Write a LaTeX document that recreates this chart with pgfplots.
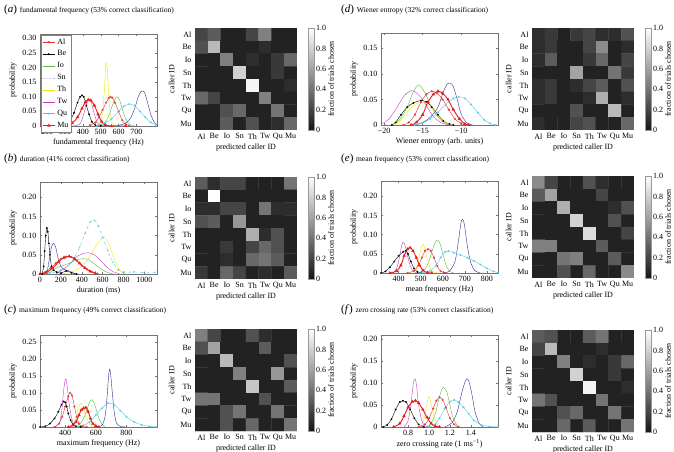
\documentclass[border=0pt]{standalone}
\usepackage{pgfplots}
\pgfplotsset{compat=1.18}
\usepackage{fontspec}
\setmainfont{Liberation Serif}
\newcommand{\fs}{\fontsize{8}{9}\selectfont}
\newcommand{\ft}{\fontsize{7.5}{9}\selectfont}
\definecolor{cAl}{RGB}{225,45,45}
\definecolor{cMu}{RGB}{230,30,30}
\definecolor{cIo}{RGB}{90,185,60}
\definecolor{cSn}{RGB}{45,45,150}
\definecolor{cTh}{RGB}{240,230,0}
\definecolor{cTw}{RGB}{200,60,200}
\definecolor{cQu}{RGB}{80,200,225}
\pgfplotsset{
  lp/.style={scale only axis, width=117pt, height=92pt, ymin=0,
    axis line style={black!55}, tick style={black!55, thin}, major tick length=2pt,
    tick align=inside, every tick label/.append style={font=\fs},
    label style={font=\fs}, ylabel={probability},
    ylabel style={yshift=-1pt}, xlabel style={yshift=3pt},
    every axis plot/.append style={thin, smooth},
    legend image code/.code={\draw[mark repeat=2,mark phase=2,##1] plot coordinates {(0pt,0pt) (6pt,0pt) (12pt,0pt)};}},
  sAl/.style={color=cAl, mark=o, mark size=0.9pt},
  sBe/.style={color=black, mark=*, mark size=0.7pt},
  sIo/.style={color=cIo},
  sSn/.style={color=cSn},
  sTh/.style={color=cTh},
  sTw/.style={color=cTw},
  sQu/.style={color=cQu, mark=o, mark size=0.8pt},
  sMu/.style={color=cMu, mark=triangle*, mark size=1.1pt, line width=0.9pt},
  hm/.style={scale only axis, width=102pt, height=102pt,
    xmin=-0.5,xmax=7.5,ymin=-0.5,ymax=7.5, y dir=reverse, enlargelimits=false,
    xtick={0,...,7}, ytick={0,...,7},
    xticklabels={Al,Be,Io,Sn,Th,Tw,Qu,Mu}, yticklabels={Al,Be,Io,Sn,Th,Tw,Qu,Mu},
    major tick length=0pt, axis line style={draw=none},
    every tick label/.append style={font=\fs}, label style={font=\fs},
    xlabel={predicted caller ID}, ylabel={caller ID},
    xlabel style={yshift=3pt}, ylabel style={yshift=-1pt},
    colormap={bw}{rgb255=(22,22,22) rgb255=(255,255,255)},
    point meta min=0, point meta max=1, colorbar,
    colorbar style={at={(parent axis.north east)}, anchor=north west, xshift=3pt, width=6pt,
      ytick={0,0.2,0.4,0.6,0.8,1}, yticklabels={0,0.2,0.4,0.6,0.8,1.0},
      ylabel={fraction of trials chosen},
      yticklabel style={font=\fs, inner xsep=1.5pt},
      ylabel style={font=\fs, inner sep=0pt, at={(rel axis cs:1,0.5)}, anchor=north, yshift=-13.5pt},
      major tick length=0pt, axis line style={black!40}}},
  mp/.style={matrix plot*, mesh/cols=8, point meta=explicit}
}
\begin{document}
\begin{tikzpicture}
\path[use as bounding box] (0pt,0pt) rectangle (674pt,452pt);
% titles
\node[anchor=base west, inner sep=0pt] at (4pt,439pt) {\fontsize{11}{12}\selectfont(\textit{a})\ \ft fundamental frequency (53\% correct classification)};
\node[anchor=base west, inner sep=0pt] at (4pt,290pt) {\fontsize{11}{12}\selectfont(\textit{b})\ \ft duration (41\% correct classification)};
\node[anchor=base west, inner sep=0pt] at (4pt,139pt) {\fontsize{11}{12}\selectfont(\textit{c})\ \ft maximum frequency (49\% correct classification)};
\node[anchor=base west, inner sep=0pt] at (341pt,439pt) {\fontsize{11}{12}\selectfont(\textit{d})\ \ft Wiener entropy (32\% correct classification)};
\node[anchor=base west, inner sep=0pt] at (341pt,290pt) {\fontsize{11}{12}\selectfont(\textit{e})\ \ft mean frequency (53\% correct classification)};
\node[anchor=base west, inner sep=0pt] at (341pt,139pt) {\fontsize{11}{12}\selectfont(\textit{f})\ \ft zero crossing rate (53\% correct classification)};

% ===== (a) line
\begin{axis}[lp, at={(40pt,326pt)}, anchor=south west, xmin=160, xmax=815, ymax=0.315,
  xtick={200,300,400,500,600,700}, xticklabels={200,300,400,500,600,700},
  ytick={0,0.05,0.1,0.15,0.2,0.25,0.3}, yticklabels={0,0.05,0.10,0.15,0.20,0.25,0.30},
  xlabel={fundamental frequency (Hz)},
  legend style={at={(0.01,0.985)}, anchor=north west, font=\fs, draw=black!50, inner sep=1pt, row sep=1.1pt, cells={anchor=west}}]
\addplot[sAl] coordinates {(440,0.003)(470,0.012)(490,0.03)(510,0.055)(530,0.08)(545,0.095)(555,0.1)(565,0.097)(580,0.08)(600,0.05)(620,0.02)(640,0.006)(660,0.001)};
\addplot[sBe] coordinates {(170,0)(250,0.001)(300,0.005)(330,0.02)(350,0.045)(370,0.08)(385,0.1)(395,0.105)(405,0.1)(420,0.07)(435,0.04)(450,0.015)(470,0.003)(500,0)};
\addplot[sIo] coordinates {(480,0)(520,0.01)(545,0.035)(565,0.07)(580,0.093)(592,0.1)(605,0.09)(620,0.06)(640,0.025)(660,0.006)(690,0)};
\addplot[sSn] coordinates {(560,0)(620,0.005)(660,0.02)(690,0.06)(710,0.1)(725,0.118)(735,0.12)(745,0.115)(760,0.085)(780,0.04)(800,0.012)(815,0.004)};
\addplot[sTh] coordinates {(450,0)(490,0.005)(510,0.04)(520,0.12)(527,0.2)(532,0.215)(537,0.19)(545,0.1)(555,0.03)(570,0.005)(600,0)};
\addplot[sTw] coordinates {(340,0)(380,0.005)(400,0.03)(415,0.065)(428,0.085)(437,0.09)(447,0.08)(460,0.05)(475,0.02)(490,0.005)(520,0)};
\addplot[sQu] coordinates {(480,0)(520,0.008)(560,0.025)(600,0.05)(630,0.068)(660,0.075)(690,0.07)(720,0.05)(750,0.03)(780,0.012)(810,0.004)};
\addplot[sMu] coordinates {(170,0)(300,0.002)(340,0.01)(370,0.03)(395,0.06)(415,0.083)(430,0.09)(445,0.088)(465,0.07)(485,0.04)(505,0.015)(525,0.004)(560,0)(640,0)};
\legend{Al,Be,Io,Sn,Th,Tw,Qu,Mu}
\end{axis}
% ===== (a) heatmap
\begin{axis}[hm, at={(195pt,322pt)}, anchor=south west]
\addplot[mp] coordinates {
(0,0)[.2] (1,0)[.3] (2,0)[.05] (3,0)[.05] (4,0)[.2] (5,0)[.45] (6,0)[.05] (7,0)[.05]
(0,1)[.25] (1,1)[.7] (2,1)[.05] (3,1)[.05] (4,1)[.05] (5,1)[.1] (6,1)[.05] (7,1)[.05]
(0,2)[.05] (1,2)[.05] (2,2)[.45] (3,2)[.05] (4,2)[.1] (5,2)[.05] (6,2)[.15] (7,2)[.35]
(0,3)[.05] (1,3)[.05] (2,3)[.05] (3,3)[.8] (4,3)[.05] (5,3)[.05] (6,3)[.15] (7,3)[.05]
(0,4)[.05] (1,4)[.05] (2,4)[.05] (3,4)[.05] (4,4)[.95] (5,4)[.05] (6,4)[.05] (7,4)[.1]
(0,5)[.35] (1,5)[.2] (2,5)[.05] (3,5)[.05] (4,5)[.05] (5,5)[.45] (6,5)[.05] (7,5)[.05]
(0,6)[.05] (1,6)[.05] (2,6)[.25] (3,6)[.35] (4,6)[.05] (5,6)[.05] (6,6)[.4] (7,6)[.05]
(0,7)[.05] (1,7)[.05] (2,7)[.3] (3,7)[.05] (4,7)[.25] (5,7)[.05] (6,7)[.1] (7,7)[.35]
};
\end{axis}

% ===== (b) line
\begin{axis}[lp, at={(40pt,178pt)}, anchor=south west, xmin=0, xmax=1120, ymax=0.24,
  xtick={0,200,400,600,800,1000}, xticklabels={0,200,400,600,800,1000},
  ytick={0,0.05,0.1,0.15,0.2}, yticklabels={0,0.05,0.10,0.15,0.20},
  xlabel={duration (ms)}]
\addplot[sAl] coordinates {(0,0)(50,0.005)(100,0.015)(150,0.028)(200,0.04)(250,0.045)(300,0.044)(350,0.035)(400,0.022)(450,0.012)(500,0.005)(550,0.001)};
\addplot[sBe] coordinates {(20,0)(35,0.02)(45,0.06)(55,0.1)(65,0.12)(75,0.11)(85,0.08)(95,0.05)(110,0.02)(130,0.01)(160,0.005)(200,0.002)(250,0.008)(300,0.003)(350,0)};
\addplot[sIo] coordinates {(50,0)(100,0.005)(150,0.015)(200,0.02)(250,0.025)(300,0.03)(350,0.037)(420,0.04)(480,0.035)(540,0.022)(600,0.01)(650,0.004)(700,0)};
\addplot[sSn] coordinates {(40,0)(70,0.01)(90,0.04)(110,0.07)(130,0.08)(150,0.07)(175,0.04)(200,0.02)(230,0.012)(260,0.01)(300,0.005)(350,0)};
\addplot[sTh] coordinates {(200,0)(300,0.005)(400,0.02)(450,0.035)(500,0.055)(550,0.08)(600,0.095)(630,0.093)(670,0.07)(710,0.04)(750,0.015)(790,0.003)(820,0)};
\addplot[sTw] coordinates {(150,0)(200,0.008)(250,0.018)(300,0.03)(350,0.045)(420,0.054)(470,0.055)(520,0.05)(580,0.035)(640,0.018)(700,0.006)(760,0.001)};
\addplot[sQu, dashed] coordinates {(0,0)(100,0.002)(200,0.01)(300,0.03)(380,0.07)(430,0.105)(480,0.135)(520,0.14)(560,0.125)(600,0.095)(650,0.06)(700,0.03)(750,0.01)(800,0.005)(900,0.005)(1000,0.004)(1100,0.004)};
\addplot[sMu] coordinates {(0,0)(60,0.004)(120,0.015)(180,0.032)(230,0.043)(280,0.046)(330,0.04)(380,0.028)(430,0.016)(480,0.007)(530,0.002)};
\end{axis}
% ===== (b) heatmap
\begin{axis}[hm, at={(195pt,173pt)}, anchor=south west]
\addplot[mp] coordinates {
(0,0)[.3] (1,0)[.1] (2,0)[.2] (3,0)[.2] (4,0)[.05] (5,0)[.05] (6,0)[.05] (7,0)[.4]
(0,1)[.05] (1,1)[1] (2,1)[.05] (3,1)[.05] (4,1)[.05] (5,1)[.05] (6,1)[.05] (7,1)[.05]
(0,2)[.1] (1,2)[.1] (2,2)[.2] (3,2)[.2] (4,2)[.05] (5,2)[.4] (6,2)[.1] (7,2)[.1]
(0,3)[.25] (1,3)[.3] (2,3)[.05] (3,3)[.55] (4,3)[.05] (5,3)[.05] (6,3)[.05] (7,3)[.05]
(0,4)[.05] (1,4)[.05] (2,4)[.05] (3,4)[.05] (4,4)[.65] (5,4)[.1] (6,4)[.25] (7,4)[.05]
(0,5)[.05] (1,5)[.05] (2,5)[.15] (3,5)[.05] (4,5)[.2] (5,5)[.35] (6,5)[.25] (7,5)[.05]
(0,6)[.05] (1,6)[.05] (2,6)[.1] (3,6)[.05] (4,6)[.35] (5,6)[.4] (6,6)[.3] (7,6)[.05]
(0,7)[.15] (1,7)[.05] (2,7)[.35] (3,7)[.2] (4,7)[.05] (5,7)[.1] (6,7)[.05] (7,7)[.3]
};
\end{axis}

% ===== (c) line
\begin{axis}[lp, at={(40pt,25pt)}, anchor=south west, xmin=235, xmax=1000, ymax=0.27,
  xtick={400,600,800}, xticklabels={400,600,800},
  ytick={0,0.05,0.1,0.15,0.2,0.25}, yticklabels={0,0.05,0.10,0.15,0.20,0.25},
  xlabel={maximum frequency (Hz)}]
\addplot[sAl] coordinates {(330,0)(360,0.01)(380,0.03)(400,0.06)(420,0.09)(432,0.1)(445,0.092)(460,0.06)(475,0.03)(490,0.01)(510,0.002)(540,0)};
\addplot[sBe] coordinates {(235,0)(270,0.002)(300,0.01)(330,0.025)(355,0.045)(375,0.065)(390,0.075)(400,0.072)(410,0.06)(420,0.04)(435,0.02)(450,0.008)(470,0.002)(500,0)};
\addplot[sIo] coordinates {(470,0)(500,0.01)(525,0.03)(545,0.055)(560,0.075)(572,0.08)(585,0.075)(600,0.055)(620,0.025)(640,0.008)(660,0)};
\addplot[sSn] coordinates {(600,0)(640,0.005)(660,0.03)(672,0.08)(682,0.14)(690,0.17)(698,0.15)(708,0.1)(720,0.045)(735,0.012)(760,0.002)(800,0)};
\addplot[sTh] coordinates {(420,0)(455,0.01)(475,0.035)(490,0.06)(500,0.07)(512,0.065)(525,0.045)(540,0.025)(560,0.008)(580,0)};
\addplot[sTw] coordinates {(330,0)(360,0.01)(375,0.04)(388,0.1)(398,0.135)(405,0.14)(413,0.12)(425,0.07)(440,0.03)(455,0.008)(480,0)};
\addplot[sQu] coordinates {(480,0)(520,0.005)(560,0.015)(600,0.035)(640,0.055)(680,0.07)(720,0.065)(760,0.048)(800,0.03)(850,0.015)(900,0.006)(950,0.002)(990,0)};
\addplot[sMu] coordinates {(420,0)(450,0.005)(470,0.015)(490,0.035)(505,0.05)(520,0.055)(535,0.057)(550,0.045)(565,0.025)(580,0.01)(600,0.003)(620,0)};
\end{axis}
% ===== (c) heatmap
\begin{axis}[hm, at={(195pt,21pt)}, anchor=south west]
\addplot[mp] coordinates {
(0,0)[.45] (1,0)[.2] (2,0)[.05] (3,0)[.05] (4,0)[.25] (5,0)[.1] (6,0)[.05] (7,0)[.05]
(0,1)[.25] (1,1)[.6] (2,1)[.05] (3,1)[.05] (4,1)[.05] (5,1)[.3] (6,1)[.05] (7,1)[.05]
(0,2)[.05] (1,2)[.05] (2,2)[.7] (3,2)[.05] (4,2)[.05] (5,2)[.05] (6,2)[.05] (7,2)[.25]
(0,3)[.05] (1,3)[.05] (2,3)[.05] (3,3)[.45] (4,3)[.05] (5,3)[.05] (6,3)[.55] (7,3)[.05]
(0,4)[.05] (1,4)[.05] (2,4)[.05] (3,4)[.05] (4,4)[.75] (5,4)[.05] (6,4)[.05] (7,4)[.3]
(0,5)[.4] (1,5)[.4] (2,5)[.05] (3,5)[.05] (4,5)[.05] (5,5)[.25] (6,5)[.05] (7,5)[.05]
(0,6)[.05] (1,6)[.05] (2,6)[.25] (3,6)[.4] (4,6)[.05] (5,6)[.05] (6,6)[.4] (7,6)[.05]
(0,7)[.05] (1,7)[.05] (2,7)[.25] (3,7)[.05] (4,7)[.35] (5,7)[.05] (6,7)[.05] (7,7)[.4]
};
\end{axis}

% ===== (d) line
\begin{axis}[lp, at={(381pt,327pt)}, anchor=south west, xmin=-20.4, xmax=-5.2, ymax=0.18,
  xtick={-20,-15,-10}, xticklabels={−20,−15,−10},
  ytick={0,0.05,0.1,0.15}, yticklabels={0,0.05,0.10,0.15},
  xlabel={Wiener entropy (arb. units)}]
\addplot[sAl] coordinates {(-17.5,0)(-16.8,0.005)(-16,0.02)(-15.2,0.045)(-14.5,0.06)(-13.8,0.066)(-13.1,0.062)(-12.4,0.05)(-11.6,0.03)(-10.8,0.012)(-10,0.003)(-9.5,0)};
\addplot[sBe] coordinates {(-19,0)(-18.5,0.005)(-17.8,0.02)(-17,0.035)(-16.2,0.043)(-15.2,0.048)(-14.5,0.045)(-13.8,0.035)(-13,0.02)(-12.3,0.008)(-11.5,0.002)(-11,0)};
\addplot[sIo] coordinates {(-19,0)(-18,0.01)(-17,0.035)(-16.2,0.065)(-15.6,0.078)(-15.2,0.075)(-14.6,0.06)(-14,0.04)(-13.2,0.02)(-12.5,0.008)(-11.5,0)};
\addplot[sSn] coordinates {(-16,0)(-15,0.005)(-14,0.015)(-13,0.035)(-12.3,0.065)(-11.8,0.08)(-11.4,0.082)(-11,0.075)(-10.5,0.05)(-10,0.022)(-9.3,0.005)(-8.5,0)};
\addplot[sTh] coordinates {(-18.5,0)(-17.8,0.01)(-17,0.025)(-16,0.04)(-15.2,0.045)(-14.5,0.04)(-13.6,0.03)(-12.8,0.015)(-12,0.005)(-11,0)};
\addplot[sTw] coordinates {(-20.4,0.002)(-19.5,0.01)(-18.5,0.03)(-17.5,0.055)(-16.8,0.065)(-16.3,0.067)(-15.8,0.063)(-15,0.05)(-14.2,0.03)(-13.5,0.015)(-12.5,0.004)(-11.5,0)};
\addplot[sQu] coordinates {(-16,0)(-15,0.004)(-14,0.012)(-13,0.025)(-12,0.04)(-11,0.052)(-10.3,0.055)(-9.5,0.052)(-8.7,0.04)(-7.8,0.024)(-7,0.01)(-6.2,0.003)(-5.5,0)};
\addplot[sMu] coordinates {(-16.5,0)(-15.8,0.005)(-15,0.02)(-14.3,0.045)(-13.6,0.06)(-13,0.066)(-12.4,0.062)(-11.7,0.05)(-11,0.03)(-10.2,0.012)(-9.5,0.002)(-9,0)};
\end{axis}
% ===== (d) heatmap
\begin{axis}[hm, at={(532pt,322pt)}, anchor=south west]
\addplot[mp] coordinates {
(0,0)[.1] (1,0)[.15] (2,0)[.05] (3,0)[.15] (4,0)[.2] (5,0)[.1] (6,0)[.1] (7,0)[.25]
(0,1)[.1] (1,1)[.15] (2,1)[.05] (3,1)[.05] (4,1)[.2] (5,1)[.5] (6,1)[.05] (7,1)[.1]
(0,2)[.1] (1,2)[.3] (2,2)[.05] (3,2)[.05] (4,2)[.15] (5,2)[.35] (6,2)[.05] (7,2)[.2]
(0,3)[.05] (1,3)[.05] (2,3)[.05] (3,3)[.6] (4,3)[.05] (5,3)[.05] (6,3)[.4] (7,3)[.15]
(0,4)[.1] (1,4)[.15] (2,4)[.05] (3,4)[.1] (4,4)[.2] (5,4)[.3] (6,4)[.05] (7,4)[.25]
(0,5)[.1] (1,5)[.15] (2,5)[.05] (3,5)[.05] (4,5)[.1] (5,5)[.65] (6,5)[.05] (7,5)[.1]
(0,6)[.05] (1,6)[.05] (2,6)[.05] (3,6)[.25] (4,6)[.05] (5,6)[.05] (6,6)[.7] (7,6)[.05]
(0,7)[.1] (1,7)[.05] (2,7)[.05] (3,7)[.2] (4,7)[.25] (5,7)[.05] (6,7)[.05] (7,7)[.35]
};
\end{axis}

% ===== (e) line
\begin{axis}[lp, at={(381pt,179pt)}, anchor=south west, xmin=320, xmax=850, ymax=0.24,
  xtick={400,500,600,700,800}, xticklabels={400,500,600,700,800},
  ytick={0,0.05,0.1,0.15,0.2}, yticklabels={0,0.05,0.10,0.15,0.20},
  xlabel={mean frequency (Hz)}]
\addplot[sAl] coordinates {(440,0)(470,0.006)(490,0.02)(505,0.04)(520,0.058)(532,0.062)(545,0.058)(560,0.04)(575,0.018)(590,0.005)(610,0)};
\addplot[sBe] coordinates {(320,0)(340,0.004)(360,0.015)(380,0.03)(400,0.045)(420,0.055)(432,0.058)(442,0.05)(455,0.03)(470,0.012)(485,0.003)(500,0)};
\addplot[sIo] coordinates {(480,0)(510,0.005)(530,0.02)(545,0.045)(560,0.072)(572,0.085)(585,0.08)(600,0.05)(615,0.02)(630,0.005)(650,0)};
\addplot[sSn] coordinates {(600,0)(630,0.005)(655,0.03)(670,0.08)(682,0.13)(690,0.14)(698,0.125)(710,0.075)(725,0.03)(745,0.006)(770,0)};
\addplot[sTh] coordinates {(450,0)(475,0.008)(490,0.035)(502,0.065)(510,0.075)(518,0.065)(530,0.035)(545,0.01)(560,0.002)(580,0)};
\addplot[sTw] coordinates {(370,0)(390,0.01)(405,0.045)(415,0.075)(422,0.08)(430,0.07)(440,0.045)(455,0.015)(470,0.003)(490,0)};
\addplot[sQu] coordinates {(500,0)(540,0.005)(570,0.02)(590,0.04)(610,0.055)(625,0.057)(650,0.053)(680,0.047)(710,0.04)(740,0.032)(770,0.022)(800,0.012)(830,0.004)(850,0.001)};
\addplot[sMu] coordinates {(360,0)(390,0.005)(410,0.02)(425,0.045)(440,0.062)(452,0.066)(465,0.058)(480,0.04)(495,0.02)(510,0.007)(530,0.001)(550,0)};
\end{axis}
% ===== (e) heatmap
\begin{axis}[hm, at={(532pt,174pt)}, anchor=south west]
\addplot[mp] coordinates {
(0,0)[.5] (1,0)[.2] (2,0)[.05] (3,0)[.05] (4,0)[.25] (5,0)[.1] (6,0)[.05] (7,0)[.05]
(0,1)[.3] (1,1)[.6] (2,1)[.05] (3,1)[.05] (4,1)[.05] (5,1)[.2] (6,1)[.05] (7,1)[.05]
(0,2)[.05] (1,2)[.05] (2,2)[.65] (3,2)[.05] (4,2)[.05] (5,2)[.05] (6,2)[.1] (7,2)[.25]
(0,3)[.05] (1,3)[.05] (2,3)[.05] (3,3)[.8] (4,3)[.05] (5,3)[.05] (6,3)[.25] (7,3)[.05]
(0,4)[.05] (1,4)[.05] (2,4)[.05] (3,4)[.05] (4,4)[.85] (5,4)[.05] (6,4)[.05] (7,4)[.2]
(0,5)[.45] (1,5)[.45] (2,5)[.05] (3,5)[.05] (4,5)[.05] (5,5)[.3] (6,5)[.05] (7,5)[.05]
(0,6)[.05] (1,6)[.05] (2,6)[.4] (3,6)[.45] (4,6)[.05] (5,6)[.05] (6,6)[.3] (7,6)[.05]
(0,7)[.05] (1,7)[.05] (2,7)[.25] (3,7)[.05] (4,7)[.35] (5,7)[.05] (6,7)[.05] (7,7)[.5]
};
\end{axis}

% ===== (f) line
\begin{axis}[lp, at={(381pt,25pt)}, anchor=south west, xmin=0.54, xmax=1.66, ymax=0.21,
  xtick={0.8,1.0,1.2,1.4}, xticklabels={0.8,1.0,1.2,1.4},
  ytick={0,0.05,0.1,0.15,0.2}, yticklabels={0,0.05,0.10,0.15,0.20},
  xlabel={zero crossing rate (1 ms\textsuperscript{−1})}]
\addplot[sAl] coordinates {(0.9,0)(0.96,0.006)(1.0,0.02)(1.04,0.042)(1.07,0.06)(1.1,0.068)(1.13,0.062)(1.16,0.045)(1.2,0.02)(1.24,0.006)(1.28,0)};
\addplot[sBe] coordinates {(0.56,0)(0.6,0.005)(0.64,0.018)(0.68,0.04)(0.72,0.057)(0.75,0.06)(0.78,0.057)(0.82,0.04)(0.86,0.02)(0.9,0.006)(0.95,0)};
\addplot[sIo] coordinates {(0.98,0)(1.02,0.008)(1.06,0.03)(1.09,0.06)(1.12,0.085)(1.14,0.09)(1.17,0.08)(1.2,0.05)(1.23,0.02)(1.27,0.004)(1.3,0)};
\addplot[sSn] coordinates {(1.15,0)(1.22,0.01)(1.27,0.035)(1.31,0.075)(1.34,0.1)(1.36,0.11)(1.38,0.105)(1.41,0.075)(1.44,0.035)(1.48,0.008)(1.52,0)};
\addplot[sTh] coordinates {(0.9,0)(0.94,0.01)(0.97,0.04)(0.99,0.065)(1.0,0.07)(1.015,0.06)(1.04,0.03)(1.07,0.008)(1.1,0)};
\addplot[sTw] coordinates {(0.76,0)(0.8,0.015)(0.83,0.06)(0.85,0.1)(0.865,0.11)(0.88,0.095)(0.9,0.05)(0.93,0.015)(0.96,0.003)(1.0,0)};
\addplot[sQu] coordinates {(1.0,0)(1.05,0.005)(1.1,0.02)(1.15,0.042)(1.2,0.058)(1.24,0.062)(1.28,0.057)(1.33,0.045)(1.38,0.03)(1.43,0.015)(1.5,0.005)(1.58,0.001)(1.66,0)};
\addplot[sMu] coordinates {(0.66,0)(0.72,0.008)(0.76,0.025)(0.8,0.045)(0.84,0.058)(0.87,0.06)(0.9,0.055)(0.94,0.04)(0.98,0.022)(1.02,0.008)(1.06,0.002)(1.1,0)};
\end{axis}
% ===== (f) heatmap
\begin{axis}[hm, at={(532pt,20pt)}, anchor=south west]
\addplot[mp] coordinates {
(0,0)[.3] (1,0)[.25] (2,0)[.05] (3,0)[.05] (4,0)[.3] (5,0)[.4] (6,0)[.05] (7,0)[.05]
(0,1)[.2] (1,1)[.7] (2,1)[.05] (3,1)[.05] (4,1)[.05] (5,1)[.1] (6,1)[.05] (7,1)[.05]
(0,2)[.05] (1,2)[.05] (2,2)[.45] (3,2)[.05] (4,2)[.1] (5,2)[.05] (6,2)[.15] (7,2)[.35]
(0,3)[.05] (1,3)[.05] (2,3)[.05] (3,3)[.8] (4,3)[.05] (5,3)[.05] (6,3)[.15] (7,3)[.05]
(0,4)[.05] (1,4)[.05] (2,4)[.05] (3,4)[.05] (4,4)[.95] (5,4)[.05] (6,4)[.05] (7,4)[.1]
(0,5)[.4] (1,5)[.25] (2,5)[.05] (3,5)[.05] (4,5)[.05] (5,5)[.4] (6,5)[.05] (7,5)[.05]
(0,6)[.05] (1,6)[.05] (2,6)[.25] (3,6)[.35] (4,6)[.05] (5,6)[.05] (6,6)[.4] (7,6)[.05]
(0,7)[.05] (1,7)[.05] (2,7)[.35] (3,7)[.05] (4,7)[.3] (5,7)[.05] (6,7)[.05] (7,7)[.4]
};
\end{axis}
\end{tikzpicture}
\end{document}
